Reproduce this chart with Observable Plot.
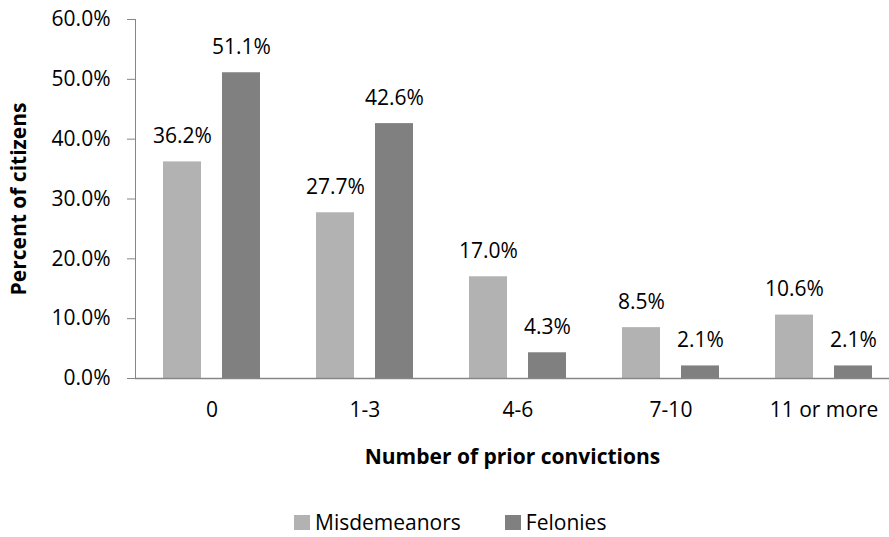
<!DOCTYPE html>
<html>
<head>
<meta charset="utf-8">
<script src="https://cdn.jsdelivr.net/npm/d3@7"></script>
<script src="https://cdn.jsdelivr.net/npm/@observablehq/plot@0.6"></script>
<style>
  html, body { margin: 0; padding: 0; background: #fff; }
  #chart svg { display: block; }
  .legend { display: flex; align-items: center; padding-left: 294px; padding-top: 12px;
    font-family: "Open Sans", sans-serif; font-size: 21px; line-height: 21px; color: #000; }
  .legend .item { display: flex; align-items: center; margin-right: 44px; }
  .legend .sw { width: 16px; height: 15px; margin-right: 5px; }
</style>
</head>
<body>
<div id="chart"></div>
<script>
const categories = ["0", "1-3", "4-6", "7-10", "11 or more"];
const series = ["Misdemeanors", "Felonies"];
const misdemeanors = [36.2, 27.7, 17.0, 8.5, 10.6];
const felonies = [51.1, 42.6, 4.3, 2.1, 2.1];
const yTicks = [0, 10, 20, 30, 40, 50, 60];
const colors = ["#b2b2b2", "#808080"];
const xTitle = "Number of prior convictions";
const yTitle = "Percent of citizens";

const misData = categories.map((c, i) => ({cat: c, series: series[0], value: misdemeanors[i]}));
const felData = categories.map((c, i) => ({cat: c, series: series[1], value: felonies[i]}));
const fmt = v => v.toFixed(1) + "%";
const axisGray = "#868686";
const fs = 21;

const chart = Plot.plot({
  width: 889,
  height: 500,
  marginTop: 19,
  marginBottom: 122,
  marginLeft: 135,
  marginRight: 0,
  style: {fontFamily: "Open Sans, sans-serif", fontSize: fs + "px", color: "#000", background: "#fff"},
  x: {domain: categories, range: [135, 900], padding: 0, axis: null},
  y: {domain: [0, 60], axis: null},
  color: {domain: series, range: colors},
  marks: [
    Plot.frame({anchor: "left", stroke: axisGray}),
    Plot.axisY({ticks: yTicks, tickFormat: fmt, tickSize: 8, tickPadding: 17, label: null, stroke: axisGray, fill: "#000", fontSize: fs}),
    Plot.barY(misData, {x: "cat", y: "value", fill: "series", insetLeft: 28, insetRight: 87}),
    Plot.barY(felData, {x: "cat", y: "value", fill: "series", insetLeft: 87, insetRight: 28}),
    Plot.text(misData, {x: "cat", y: "value", text: d => fmt(d.value), dx: -29.5, dy: -19, lineAnchor: "bottom", fontSize: fs, fill: "#000"}),
    Plot.text(felData, {x: "cat", y: "value", text: d => fmt(d.value), dx: 29.5, dy: -19, lineAnchor: "bottom", fontSize: fs, fill: "#000"}),
    Plot.ruleY([0], {stroke: axisGray, strokeWidth: 1.3}),
    Plot.axisX({tickSize: 0, tickPadding: 24, label: null, fontSize: fs, fill: "#000"}),
    Plot.text([xTitle], {frameAnchor: "bottom", textAnchor: "middle", dy: 79, lineAnchor: "middle", fontWeight: "bold", fontSize: fs, fill: "#000"}),
    Plot.text([yTitle], {frameAnchor: "left", textAnchor: "middle", rotate: -90, dx: -116, lineAnchor: "middle", fontWeight: "bold", fontSize: fs, fill: "#000"})
  ]
});
document.getElementById("chart").appendChild(chart);

const legend = document.createElement("div");
legend.className = "legend";
series.forEach((s, i) => {
  const item = document.createElement("div");
  item.className = "item";
  const sw = document.createElement("div");
  sw.className = "sw";
  sw.style.background = colors[i];
  const label = document.createElement("span");
  label.textContent = s;
  item.appendChild(sw);
  item.appendChild(label);
  legend.appendChild(item);
});
document.getElementById("chart").appendChild(legend);
</script>
</body>
</html>
